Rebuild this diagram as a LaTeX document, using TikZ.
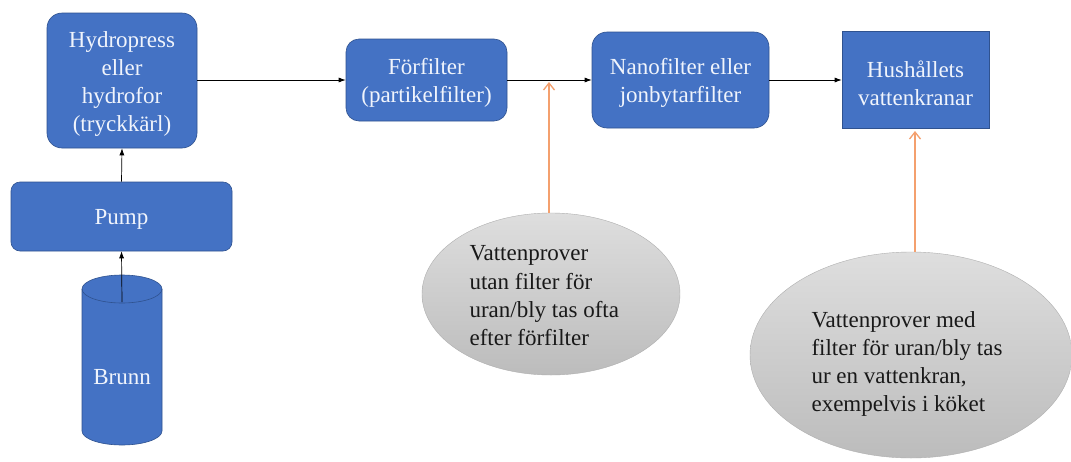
\documentclass[tikz,border=0pt]{standalone}
\usepackage{fontspec}
\setmainfont{Liberation Serif}
\usetikzlibrary{shapes.geometric,arrows.meta}
\definecolor{boxblue}{RGB}{68,114,196}
\definecolor{boxedge}{RGB}{47,82,143}
\definecolor{boxtext}{RGB}{240,244,252}
\definecolor{orangeline}{RGB}{244,160,110}
\definecolor{ellTop}{RGB}{222,222,222}
\definecolor{ellBot}{RGB}{188,188,188}
\definecolor{ellEdge}{RGB}{175,175,175}
\tikzset{
  bluebox/.style={draw=boxedge, line width=0.6pt, fill=boxblue, inner sep=0pt},
  boxlabel/.style={text=boxtext, align=center, font=\fontsize{23}{28}\selectfont, yshift=-3pt},
  flow/.style={-{Latex[length=7pt,width=5pt]}, line width=0.7pt, black},
  probe/.style={-{Straight Barb[length=7pt,width=11pt,line width=1.3pt]}, line width=1.4pt, orangeline},
  sampell/.style={ellipse, draw=ellEdge, line width=0.4pt, top color=ellTop, bottom color=ellBot, inner sep=0pt},
  samptext/.style={anchor=west, align=left, font=\fontsize{23}{28.3}\selectfont, text=black!90}
}
\begin{document}
\begin{tikzpicture}[x=1pt,y=-1pt]
\useasboundingbox[fill=white] (0,0) rectangle (1071,461);
% Brunn cylinder
\path[bluebox] (82,289) -- (82,431) arc[start angle=180,end angle=0,x radius=40,y radius=14] -- (162,289)
  arc[start angle=0,end angle=-180,x radius=40,y radius=14] -- cycle;
\draw[boxedge, line width=0.6pt] (82,289) arc[start angle=180,end angle=0,x radius=40,y radius=14];
\node[boxlabel, yshift=3pt] (brunn) at (122,377) {Brunn};
\coordinate (brunntop) at (122,302);
% boxes
\node[bluebox, rounded corners=15pt, minimum width=150pt, minimum height=135pt] (hydro) at (122,80.5) {};
\node[boxlabel] (hydrol) at (hydro) {Hydropress\\eller\\hydrofor\\(tryckkärl)};
\node[bluebox, rounded corners=9pt, minimum width=221pt, minimum height=69pt] (pump) at (121.5,216.5) {};
\node[boxlabel] (pumpl) at (pump) {Pump};
\node[bluebox, rounded corners=13pt, minimum width=161pt, minimum height=82pt] (forf) at (426.5,80) {};
\node[boxlabel] (forfl) at (forf) {Förfilter\\(partikelfilter)};
\node[bluebox, rounded corners=15pt, minimum width=177pt, minimum height=96pt] (nano) at (680.5,80) {};
\node[boxlabel] (nanol) at (nano) {Nanofilter eller\\jonbytarfilter};
\node[bluebox, minimum width=147pt, minimum height=97pt] (hus) at (915.5,80) {};
\node[boxlabel] (husl) at (hus) {Hushållets\\vattenkranar};
% flow arrows
\draw[flow] (brunntop) -- (pump.south);
\draw[flow] (pump.north) -- (hydro.south);
\draw[flow] (hydro.east |- forf.west) -- (forf.west);
\draw[flow] (forf.east) -- (nano.west);
\draw[flow] (nano.east) -- (hus.west);
% sample ellipses
\node[sampell, minimum width=258pt, minimum height=162pt] (e1) at (551,294) {};
\node[samptext] (t1) at (466,296) {Vattenprover\\utan filter för\\uran/bly tas ofta\\efter förfilter};
\node[sampell, minimum width=322pt, minimum height=206pt] (e2) at (911,355) {};
\node[samptext] (t2) at (808,364) {Vattenprover med\\filter för uran/bly tas\\ur en vattenkran,\\exempelvis i köket};
% orange probes
\coordinate (p1) at (549,82);
\coordinate (p2) at (915,131);
\draw[probe] (e1.north -| p1) -- (p1);
\draw[probe] (e2.north -| p2) -- (p2);
\end{tikzpicture}
\end{document}
